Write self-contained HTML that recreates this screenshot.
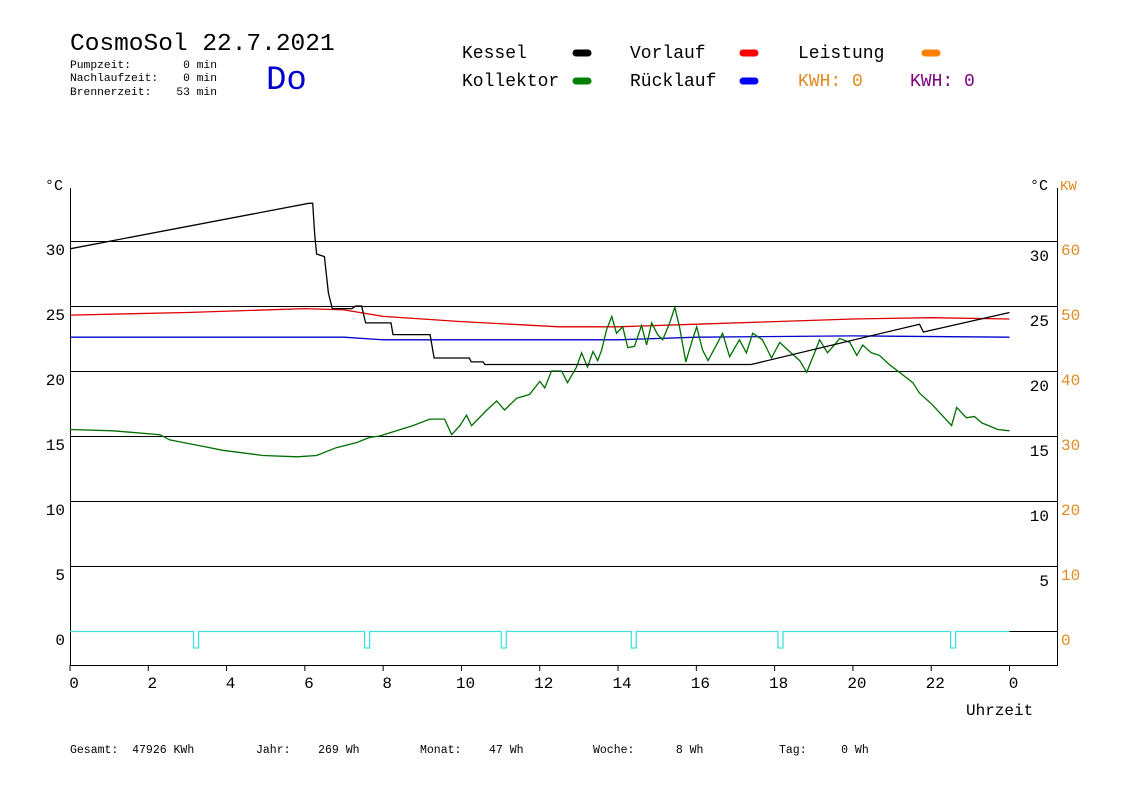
<!DOCTYPE html>
<html><head><meta charset="utf-8"><style>
body{margin:0;background:#fff;}
svg{display:block;font-family:"Liberation Mono",monospace;}
text{white-space:pre;}
</style></head><body>
<svg width="1148" height="812" viewBox="0 0 1148 812" xmlns="http://www.w3.org/2000/svg">
<rect width="1148" height="812" fill="#fff"/>
<text x="70" y="50" font-size="24.5" fill="#000">CosmoSol 22.7.2021</text>
<g font-size="11.3" fill="#000">
<text x="70" y="68">Pumpzeit:</text><text x="217" y="68" text-anchor="end">0 min</text>
<text x="70" y="81">Nachlaufzeit:</text><text x="217" y="81" text-anchor="end">0 min</text>
<text x="70" y="95">Brennerzeit:</text><text x="217" y="95" text-anchor="end">53 min</text>
</g>
<text x="266" y="89" font-size="34" fill="#0000cc">Do</text>
<g font-size="18">
<g><text x="462" y="58" fill="#000">Kessel</text><line x1="576" y1="53" x2="588" y2="53" stroke="#000" stroke-width="7" stroke-linecap="round"/></g>
<g><text x="462" y="86" fill="#000">Kollektor</text><line x1="576" y1="81" x2="588" y2="81" stroke="#008000" stroke-width="7" stroke-linecap="round"/></g>
<g><text x="630" y="58" fill="#000">Vorlauf</text><line x1="743" y1="53" x2="755" y2="53" stroke="#f00" stroke-width="7" stroke-linecap="round"/></g>
<g><text x="630" y="86" fill="#000">Rücklauf</text><line x1="743" y1="81" x2="755" y2="81" stroke="#0000ff" stroke-width="7" stroke-linecap="round"/></g>
<g><text x="798" y="58" fill="#000">Leistung</text><line x1="925" y1="53" x2="937" y2="53" stroke="#ff8000" stroke-width="7" stroke-linecap="round"/></g>
<text x="798" y="86" fill="#e08a20">KWH: 0</text>
<text x="910" y="86" fill="#800080">KWH: 0</text>
</g>
<g id="plot"></g>
<g font-size="11.5" fill="#000">
<text x="70" y="753">Gesamt:  47926 KWh</text>
<text x="256" y="753">Jahr:    269 Wh</text>
<text x="420" y="753">Monat:    47 Wh</text>
<text x="593" y="753">Woche:      8 Wh</text>
<text x="779" y="753">Tag:     0 Wh</text>
</g>
</svg>
<script>
const kesselH=[0,6.1,6.2,6.25,6.3,6.5,6.6,6.7,7.2,7.3,7.45,7.55,8.2,8.25,9.2,9.3,10.2,10.25,10.55,10.6,17.4,21.7,21.8,24];
const kesselV=[29.4,32.9,32.9,30.5,29.0,28.8,26,24.8,24.8,25.0,25.0,23.7,23.7,22.8,22.8,21.0,21.0,20.7,20.7,20.5,20.5,23.6,23.0,24.5];
const vorlaufH=[0,3,6,7,8,10,12.5,14,16,18,20,22,24];
const vorlaufV=[24.3,24.5,24.8,24.7,24.2,23.8,23.4,23.4,23.6,23.8,24.0,24.1,24.0];
const ruecklaufH=[0,7,8,14,16,20,24];
const ruecklaufV=[22.6,22.6,22.4,22.4,22.6,22.7,22.6];
const kollH=[0,1.1,2.3,2.55,3.4,3.9,4.93,5.8,6.3,6.8,7.33,7.66,7.91,8.76,9.19,9.57,9.75,9.96,10.13,10.26,10.65,10.9,11.1,11.41,11.74,12.0,12.13,12.3,12.56,12.71,12.94,13.07,13.22,13.36,13.48,13.58,13.71,13.84,13.96,14.12,14.25,14.42,14.6,14.73,14.86,15.01,15.14,15.32,15.45,15.57,15.73,15.88,16.01,16.16,16.3,16.67,16.85,17.1,17.28,17.44,17.69,17.92,18.13,18.38,18.64,18.82,19.02,19.15,19.35,19.58,19.66,19.92,20.1,20.25,20.47,20.68,20.93,21.19,21.53,21.7,22.03,22.52,22.65,22.9,23.1,23.3,23.7,24.0];
const kollV=[15.5,15.4,15.1,14.7,14.2,13.9,13.5,13.4,13.5,14.1,14.5,14.9,15.0,15.8,16.3,16.3,15.1,15.8,16.6,15.8,17.0,17.7,17.0,17.9,18.2,19.2,18.7,20.0,20.0,19.1,20.3,21.4,20.3,21.5,20.8,21.6,23.2,24.2,22.9,23.4,21.8,21.9,23.5,22.0,23.7,22.8,22.4,23.7,24.9,23.4,20.7,22.2,23.4,21.6,20.8,22.9,21.1,22.4,21.4,22.9,22.4,21.0,22.2,21.5,20.8,19.9,21.4,22.4,21.4,22.2,22.5,22.2,21.2,22.0,21.4,21.2,20.5,19.9,19.1,18.3,17.4,15.8,17.2,16.4,16.5,16.0,15.5,15.4];
const pulseH=[3.22,7.59,11.08,14.4,18.15,22.56];
const leftTicks=[30,25,20,15,10,5,0];
const rightTicks=[30,25,20,15,10,5];
const kwTicks=[60,50,40,30,20,10,0];
const xTickLabels=["0","2","4","6","8","10","12","14","16","18","20","22","0"];

const X0=70,X1=1057,PX=939.5/24;
const xs=h=>X0+h*PX;
const ys=v=>631-v*13;
const NS="http://www.w3.org/2000/svg";
const plot=document.getElementById('plot');
function mk(tag,attrs,parent){const e=document.createElementNS(NS,tag);for(const k in attrs)e.setAttribute(k,attrs[k]);(parent||plot).appendChild(e);return e;}

const grid=mk('g',{});


leftTicks.forEach(v=>{if(v>0){mk('line',{x1:X0,x2:X1,y1:ys(v)+0.5,y2:ys(v)+0.5,stroke:'#000','stroke-width':1},grid);}});
mk('line',{x1:xs(24),x2:X1,y1:631.5,y2:631.5,stroke:'#000','stroke-width':1},grid);

const axes=mk('g',{});


mk('line',{x1:70.5,x2:70.5,y1:188,y2:666,stroke:'#000'},axes);
mk('line',{x1:1057.5,x2:1057.5,y1:188,y2:666,stroke:'#000'},axes);
mk('line',{x1:70,x2:1058,y1:665.5,y2:665.5,stroke:'#000'},axes);
xTickLabels.forEach((t,i)=>{const x=xs(i*2);
 mk('line',{x1:x,x2:x,y1:665,y2:671,stroke:'#000'},axes);
 const tx=mk('text',{x:x+4,y:688,'font-size':16,'text-anchor':'middle',fill:'#000'},axes);tx.textContent=t;
 
 });
const ut=mk('text',{x:966,y:715,'font-size':16,fill:'#000'},axes);ut.textContent='Uhrzeit';


const cl=mk('text',{x:45,y:190,'font-size':15,fill:'#000'},axes);cl.textContent='°C';


const cr=mk('text',{x:1030,y:190,'font-size':15,fill:'#000'},axes);cr.textContent='°C';


const kw=mk('text',{x:1060,y:190,'font-size':14,fill:'#e08a20'},axes);kw.textContent='KW';


leftTicks.forEach(v=>{const t=mk('text',{x:65,y:ys(v)+14,'font-size':16,'text-anchor':'end',fill:'#000'},axes);t.textContent=v;
 
 });
rightTicks.forEach(v=>{const t=mk('text',{x:1049,y:ys(v)+20,'font-size':16,'text-anchor':'end',fill:'#000'},axes);t.textContent=v;
 
 });
kwTicks.forEach(v=>{const t=mk('text',{x:1061,y:ys(v/2)+14,'font-size':16,fill:'#e08a20'},axes);t.textContent=v;
 
 });

function series(H,V,color,name){const d=H.map((h,i)=>(i?'L':'M')+xs(h).toFixed(1)+','+ys(V[i]).toFixed(1)).join(' ');
 const p=mk('path',{d:d,fill:'none',stroke:color,'stroke-width':1.3});
 
 }
series(vorlaufH,vorlaufV,'#e00000','vorlauf-line');
series(ruecklaufH,ruecklaufV,'#0000cc','ruecklauf-line');
series(kollH,kollV,'#006e00','kollektor-line');
series(kesselH,kesselV,'#000','kessel-line');

const pw=mk('g',{});


let d='M'+xs(0)+',631.5';
pulseH.forEach(h=>{const x=xs(h);d+=' L'+(x-2.5)+',631.5 L'+(x-2.5)+',648 L'+(x+2.5)+',648 L'+(x+2.5)+',631.5';});
d+=' L'+xs(24)+',631.5';
mk('path',{d:d,fill:'none',stroke:'#40e0e0','stroke-width':1.3},pw);
</script>
</body></html>
